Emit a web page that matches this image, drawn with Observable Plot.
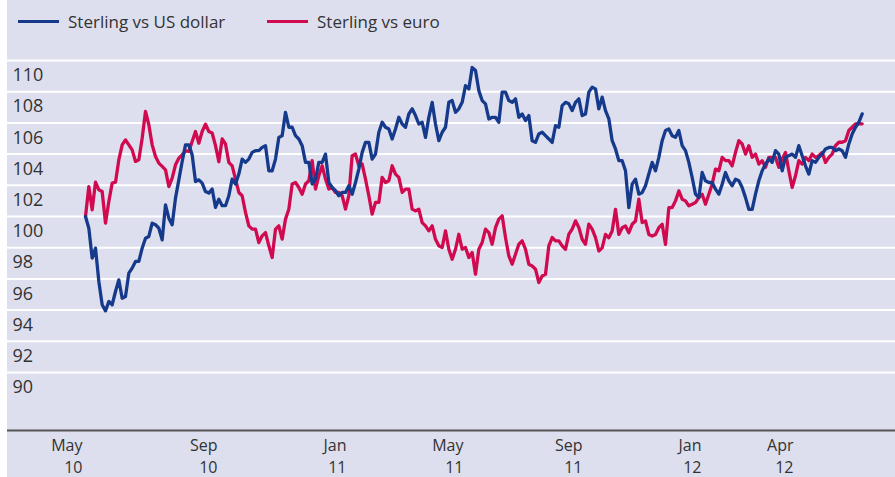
<!DOCTYPE html>
<html>
<head>
<meta charset="utf-8">
<script src="https://cdn.jsdelivr.net/npm/d3@7"></script>
<script src="https://cdn.jsdelivr.net/npm/@observablehq/plot@0.6"></script>
<style>
  body { margin: 0; background: #ffffff; font-family: "Open Sans", sans-serif; }
  #chart { position: absolute; left: 7px; top: 0; width: 888px; height: 477px; background: #dddfee; overflow: hidden; }
  .item { position: absolute; top: 10px; display: flex; align-items: center; font-size: 17px; color: #333333; white-space: nowrap; }
  .sw { width: 41px; height: 3px; margin-right: 9px; }
  #plot { position: absolute; left: 0; top: 40px; }
</style>
</head>
<body>
<div id="chart">
  <div id="legend"></div>
  <div id="plot"></div>
</div>
<script>
// Series: index (May 2010 = 100), sampled at equal steps from May 2010 to Apr 2012
const seriesNames = ["Sterling vs US dollar", "Sterling vs euro"];
const seriesColors = ["#163a8b", "#d10a4f"];

const usd = [
  100, 99.25, 97.33, 97.97, 95.83, 94.34, 93.95, 94.55, 94.34, 95.19, 95.94, 94.76, 94.87, 96.37, 96.69, 97.12, 97.12, 97.97, 98.61, 98.72, 99.57, 99.47, 99.25, 98.5, 100.75, 99.89, 99.47, 101.18, 102.35, 103.53, 104.59, 104.59, 103.95, 102.24, 102.35, 102.14, 101.6, 101.5,
  101.76, 100.58, 101.11, 100.69, 100.69, 101.33, 102.40, 102.08, 102.72, 103.68, 103.47, 103.68, 104.11, 104.22, 104.22, 104.43, 104.54, 102.93, 102.93, 103.68, 105.07, 105.18, 106.68, 105.72, 105.72, 105.18, 104.97, 104.54, 103.47, 103.47, 102.08, 102.40, 103.47, 103.47, 104.00, 102.18, 101.86, 101.65, 101.33,
  101.54, 101.54, 101.97, 101.43, 102.18, 103.04, 104.11, 104.75, 104.75, 103.68, 104.00, 105.40, 106.04, 105.72, 105.61, 104.97, 105.61, 106.36, 105.93, 105.72, 106.57, 106.90, 106.47, 105.93, 106.04, 105.07, 106.36, 107.32, 105.93, 104.86, 105.40, 105.72, 107.32, 107.43, 106.68, 106.90, 107.32, 108.39, 108.18,
  109.55, 109.36, 108.07, 107.43, 107.22, 106.25, 106.36, 106.36, 106.04, 107.97, 107.97, 107.43, 107.32, 107.54, 106.36, 106.57, 106.15, 106.47, 104.86, 104.75, 105.29, 105.40, 105.18, 104.97, 104.75, 105.82, 105.72, 107.11, 107.32, 107.22, 106.79, 107.32, 107.54, 106.47, 106.57, 107.97, 108.29, 108.18, 106.90,
  107.65, 106.79, 106.26, 104.86, 104.33, 103.58, 103.58, 102.93, 100.57, 102.07, 102.39, 101.43, 101.54, 101.97, 102.72, 103.47, 102.93, 103.79, 104.86, 105.51, 105.61, 105.18, 105.08, 105.51, 104.54, 104.22, 103.47, 102.50, 101.43, 101.21, 102.82, 102.29, 102.18, 102.18, 101.75, 101.43, 102.07, 102.82, 102.29,
  101.97, 102.39, 102.29, 101.86, 101.21, 100.46, 100.46, 101.43, 102.29, 102.93, 103.36, 103.68, 103.47, 104.22, 104.00, 102.93, 103.79, 103.90, 104.00, 103.79, 104.54, 103.90, 103.25, 102.72, 103.58, 103.47, 103.79, 104.00, 104.33, 104.43, 104.43, 104.22, 104.33, 104.22, 103.79, 104.65, 105.29, 105.72, 106.04, 106.58
];

const eur = [
  100.0, 101.92, 100.43, 102.2, 101.71, 101.6, 99.57, 100.96, 102.14, 102.2, 103.63, 104.59, 104.91, 104.59, 104.27, 103.53, 103.63, 105.02, 106.73, 105.88, 104.59, 103.85, 103.42, 103.21, 102.99, 101.92, 102.46, 103.31, 103.74, 103.95, 104.21, 104.17, 104.81, 105.45, 104.7, 105.45, 105.92, 105.45,
  105.35, 104.54, 103.51, 104.97, 104.65, 103.47, 103.25, 102.40, 101.54, 101.33, 100.26, 99.40, 99.19, 99.19, 98.33, 98.76, 98.97, 98.12, 97.37, 99.19, 99.40, 98.55, 99.83, 100.47, 102.08, 102.18, 101.86, 101.43, 102.08, 102.29, 103.58, 101.76, 102.61, 103.25, 102.40, 101.76, 101.86, 101.54, 101.54,
  101.33, 100.47, 101.33, 103.90, 104.00, 103.25, 103.36, 102.40, 101.33, 100.15, 100.90, 100.90, 102.51, 102.18, 102.29, 103.25, 102.72, 102.51, 101.54, 101.76, 101.76, 100.47, 100.36, 100.47, 99.61, 99.40, 99.08, 99.40, 98.54, 98.12, 98.01, 99.08, 97.90, 97.26, 97.90, 98.86, 97.90, 98.01, 97.37,
  97.69, 96.30, 97.90, 98.33, 99.19, 98.97, 98.22, 99.29, 99.83, 100.04, 98.65, 97.47, 96.94, 97.58, 98.22, 98.44, 97.90, 96.94, 96.83, 96.62, 95.76, 96.19, 96.30, 98.12, 98.65, 98.44, 98.44, 98.12, 97.90, 98.86, 99.19, 99.72, 99.29, 98.54, 98.22, 99.51, 99.19, 98.65, 97.79,
  97.99, 98.85, 98.64, 99.07, 100.46, 98.85, 99.28, 99.39, 98.96, 99.50, 99.71, 101.11, 99.61, 99.71, 98.85, 98.75, 98.85, 99.28, 99.50, 98.21, 100.57, 100.57, 101.00, 101.64, 101.11, 101.00, 100.68, 100.79, 100.89, 101.21, 101.43, 100.79, 101.43, 102.07, 103.04, 102.93, 103.79, 103.58, 103.58,
  103.25, 104.11, 104.86, 104.65, 104.00, 104.54, 103.79, 104.00, 103.36, 103.58, 103.15, 103.79, 103.79, 103.79, 103.15, 103.68, 104.11, 102.93, 101.86, 102.61, 103.58, 103.36, 103.79, 103.58, 104.00, 103.79, 103.90, 104.11, 103.47, 103.79, 104.00, 104.54, 104.76, 104.76, 104.86, 105.51, 105.72, 105.94, 105.94, 105.94
];

// Axis ticks
const yTicks = [90, 92, 94, 96, 98, 100, 102, 104, 106, 108, 110];
const xTickLabels = ["May\n10", "Sep\n10", "Jan\n11", "May\n11", "Sep\n11", "Jan\n12", "Apr\n12"];
const xTickPositions = [-0.9, 39.6, 78.3, 113.4, 149.1, 184.8, 212.4]; // observation index of each label
const xDomain = [-23.4, 243];
const yDomain = [86.28, 110];

// Legend
const legend = document.getElementById("legend");
const legendLeft = [11, 260];
seriesNames.forEach((name, i) => {
  const it = document.createElement("div");
  it.className = "item";
  it.style.left = legendLeft[i] + "px";
  it.innerHTML = `<span class="sw" style="background:${seriesColors[i]}"></span><span>${name}</span>`;
  legend.appendChild(it);
});

const chart = Plot.plot({
  width: 888,
  height: 437,
  marginTop: 20,
  marginBottom: 47,
  marginLeft: 0,
  marginRight: 0,
  style: { background: "transparent", fontFamily: "Open Sans, sans-serif", color: "#333333" },
  x: { domain: xDomain, axis: null },
  y: { domain: yDomain, axis: null },
  marks: [
    Plot.ruleY(yTicks, { stroke: "#ffffff", strokeWidth: 2 }),
    Plot.text(yTicks, { y: d => d, text: d => String(d), frameAnchor: "left", textAnchor: "start", dx: 5, dy: 15, fontSize: 18, fill: "#333333" }),
    Plot.ruleY([yDomain[0]], { stroke: "#555555", strokeWidth: 2 }),
    Plot.text(xTickLabels, { x: (d, i) => xTickPositions[i], text: d => d, frameAnchor: "bottom", textAnchor: "end", lineAnchor: "top", dy: 4, fontSize: 16, lineHeight: 1.42, fill: "#333333" }),
    Plot.lineY(eur, { stroke: seriesColors[1], strokeWidth: 3.3, strokeLinejoin: "round" }),
    Plot.lineY(usd, { stroke: seriesColors[0], strokeWidth: 3.3, strokeLinejoin: "round" })
  ]
});
document.getElementById("plot").appendChild(chart);
</script>
</body>
</html>
